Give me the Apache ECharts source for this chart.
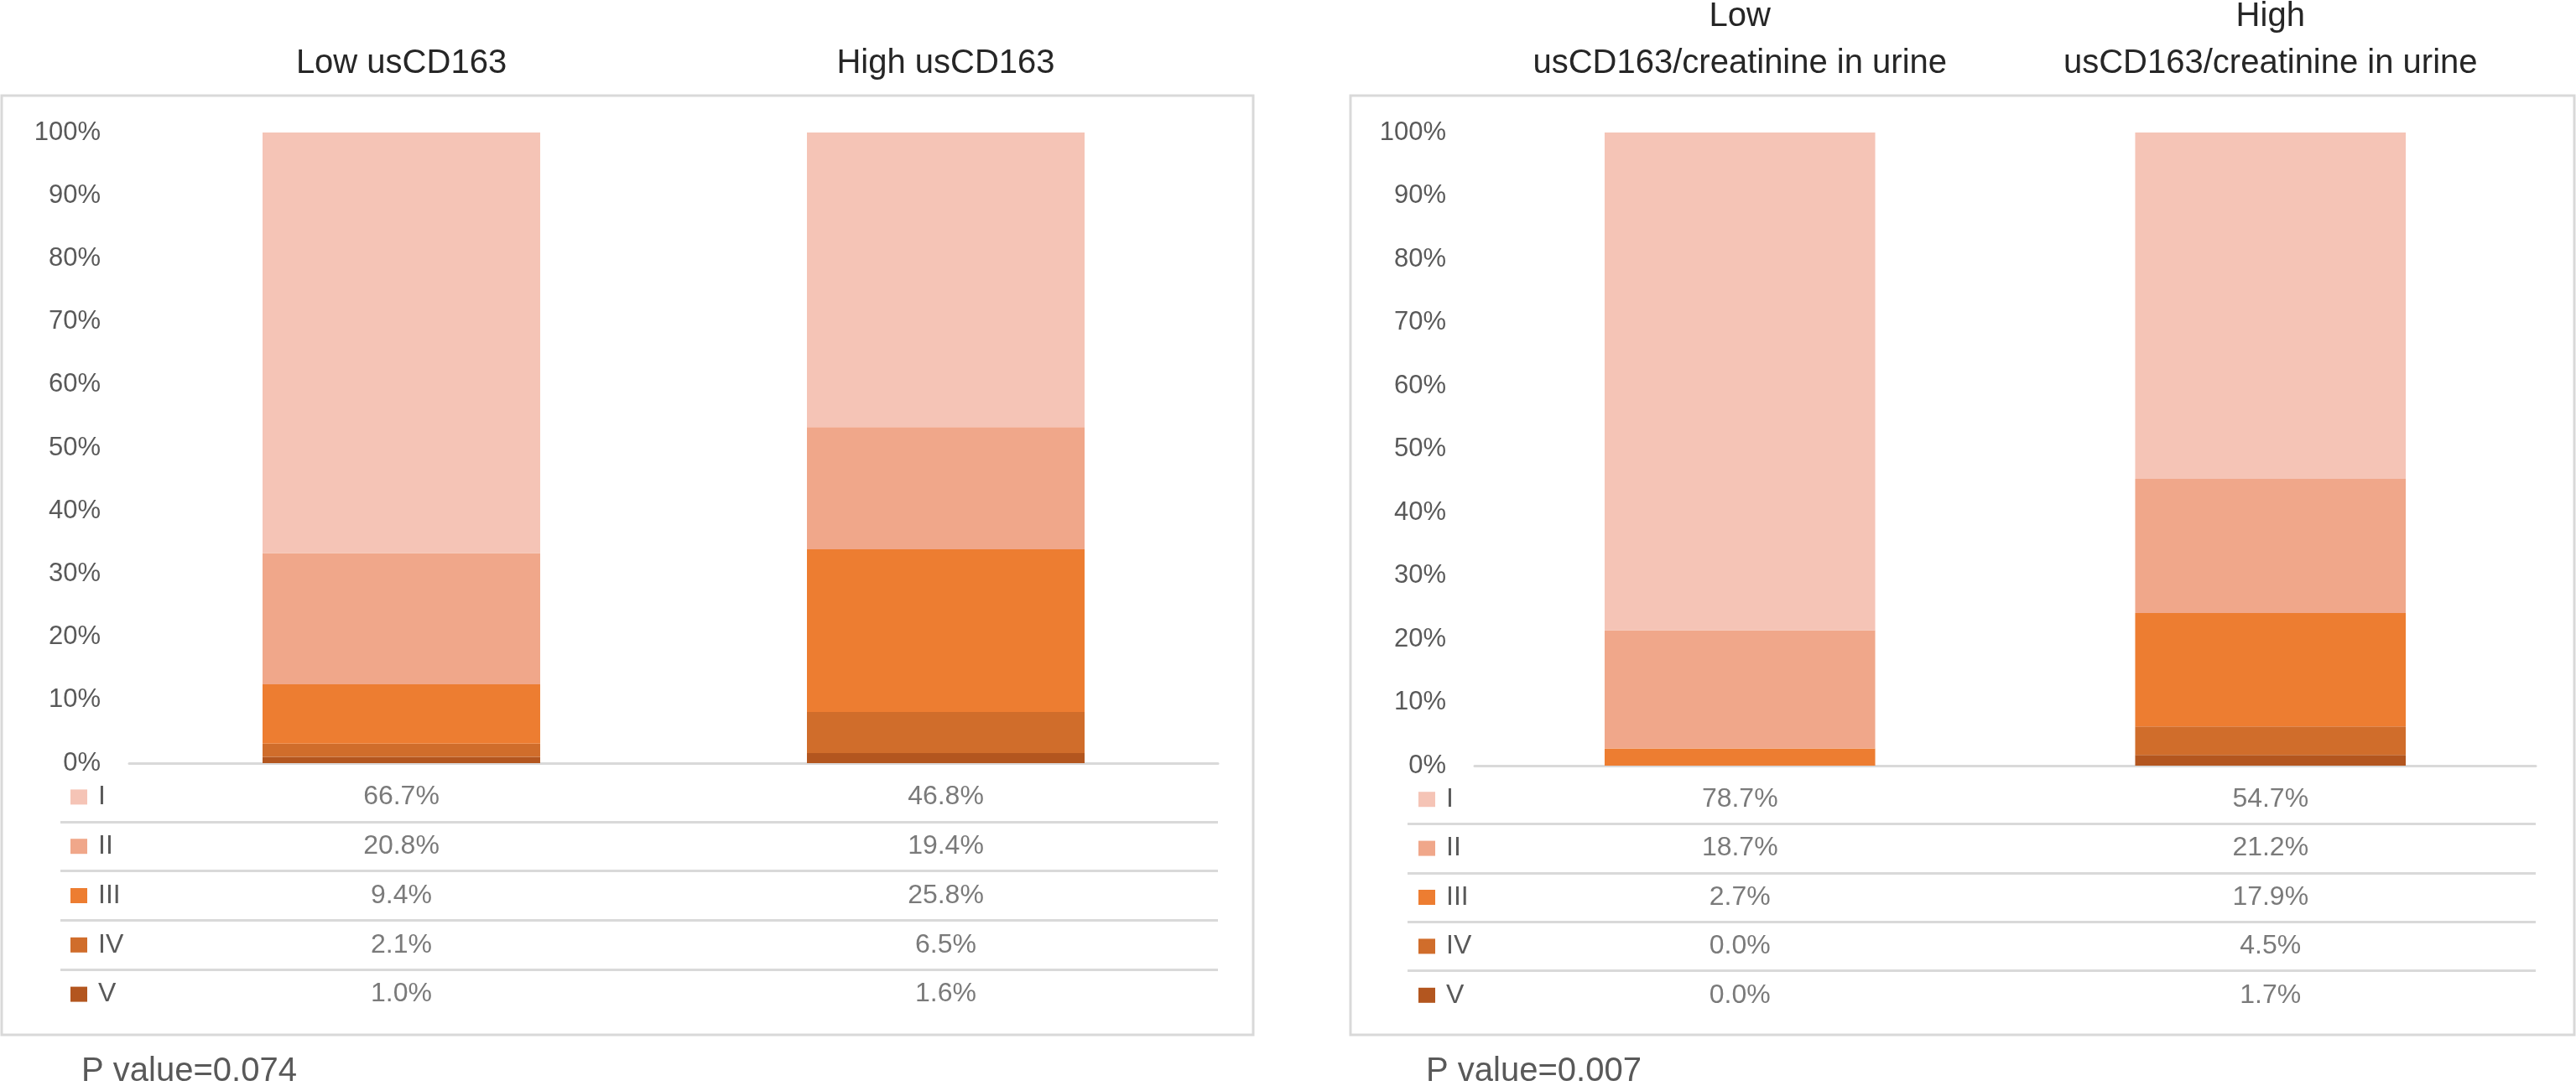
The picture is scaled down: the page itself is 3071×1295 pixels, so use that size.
<!DOCTYPE html>
<html>
<head>
<meta charset="utf-8">
<script src="https://cdn.jsdelivr.net/npm/echarts@6/dist/echarts.min.js"></script>
<style>
  html, body { margin: 0; padding: 0; background: #fff; }
  #chart { width: 3071px; height: 1295px; }
</style>
</head>
<body>
<div id="chart"></div>
<script>
// data
const grades = ["I", "II", "III", "IV", "V"];
const gradeColors = ["#F5C4B6", "#F0A78A", "#ED7D31", "#D06D2B", "#B3561F"];

const categoriesA = ["Low usCD163", "High usCD163"];
const lowA = [66.7, 20.8, 9.4, 2.1, 1.0];
const highA = [46.8, 19.4, 25.8, 6.5, 1.6];

const categoriesB = ["Low\nusCD163/creatinine in urine", "High\nusCD163/creatinine in urine"];
const lowB = [78.7, 18.7, 2.7, 0.0, 0.0];
const highB = [54.7, 21.2, 17.9, 4.5, 1.7];

const pValues = ["P value=0.074", "P value=0.007"];

const FONT = "'Liberation Sans', Arial, sans-serif";
const GRAY = "#595959";
const LINE = "#D9D9D9";

// layout of the two panels (pixels)
const panels = [
  { cats: categoriesA, low: lowA, high: highA, p: pValues[0],
    box: [2, 114, 1492, 1120], barLeft: 154, barRight: 1452, top: 158, zero: 910,
    tableLeft: 72, tableTop: 921, tableBottom: 1215, pX: 97, labelMargin: 12 },
  { cats: categoriesB, low: lowB, high: highB, p: pValues[1],
    box: [1610, 114, 1459, 1120], barLeft: 1758, barRight: 3023, top: 158, zero: 913,
    tableLeft: 1678, tableTop: 924, tableBottom: 1216, pX: 1700, labelMargin: 13 },
];

const chart = echarts.init(document.getElementById("chart"));

const grid = [], xAxis = [], yAxis = [], series = [], graphic = [];

const rich = { t: { fontSize: 32, color: GRAY, fontFamily: FONT, padding: [0, 0, 0, 13] } };
gradeColors.forEach((c, i) => {
  rich["s" + i] = { backgroundColor: c, width: 20, height: 18 };
});

panels.forEach((pn, k) => {
  const gBar = grid.length;
  grid.push({ left: pn.barLeft, top: pn.top, width: pn.barRight - pn.barLeft,
    height: pn.zero - pn.top, outerBoundsMode: "none" });
  const gTab = grid.length;
  grid.push({ left: pn.tableLeft, top: pn.tableTop, width: pn.barRight - pn.tableLeft,
    height: pn.tableBottom - pn.tableTop, outerBoundsMode: "none" });

  // bar grid axes
  const xBottom = xAxis.length;
  xAxis.push({
    type: "category", gridIndex: gBar, data: pn.cats,
    axisLine: { lineStyle: { color: LINE, width: 3 } },
    axisTick: { show: false }, axisLabel: { show: false },
  });
  xAxis.push({
    type: "category", gridIndex: gBar, data: pn.cats, position: "top",
    axisLine: { show: false }, axisTick: { show: false },
    axisLabel: { interval: 0, margin: 54, fontSize: 40, lineHeight: 56, color: "#262626", fontFamily: FONT },
  });
  const yBar = yAxis.length;
  yAxis.push({
    type: "value", gridIndex: gBar, min: 0, max: 100, interval: 10,
    splitLine: { show: false }, axisLine: { show: false }, axisTick: { show: false },
    axisLabel: { formatter: "{value}%", margin: 34, fontSize: 31, color: GRAY, fontFamily: FONT },
  });

  // table grid axes: x value axis aligned with bar category centres
  const band = (pn.barRight - pn.barLeft) / pn.cats.length;
  const c0 = pn.barLeft + band / 2;
  const xTab = xAxis.length;
  xAxis.push({
    type: "value", gridIndex: gTab,
    min: -(c0 - pn.tableLeft) / band,
    max: (pn.barRight - pn.tableLeft) / band - (c0 - pn.tableLeft) / band,
    show: false,
  });
  const yTab = yAxis.length;
  yAxis.push({
    type: "category", gridIndex: gTab, data: grades, inverse: true,
    axisLine: { show: false }, axisTick: { show: false },
    splitLine: { show: true, interval: 0, showMinLine: false, showMaxLine: false,
      lineStyle: { color: LINE, width: 3 } },
    axisLabel: {
      inside: true, margin: pn.labelMargin, interval: 0,
      formatter: (v, i) => "{s" + i + "|}{t|" + v + "}", rich: rich,
    },
  });

  // stacked bars, grade V at the bottom
  for (let g = grades.length - 1; g >= 0; g--) {
    series.push({
      type: "bar", name: grades[g], stack: "p" + k,
      xAxisIndex: xBottom, yAxisIndex: yBar, barWidth: "51%",
      itemStyle: { color: gradeColors[g] },
      data: [pn.low[g], pn.high[g]],
    });
  }

  // data table values
  const cells = [];
  grades.forEach((g, i) => {
    cells.push([0, g, pn.low[i]]);
    cells.push([1, g, pn.high[i]]);
  });
  series.push({
    type: "scatter", xAxisIndex: xTab, yAxisIndex: yTab,
    symbolSize: 1, itemStyle: { color: "transparent" },
    label: { show: true, position: "inside", fontSize: 32, color: GRAY, fontFamily: FONT,
      formatter: (p) => p.value[2].toFixed(1) + "%" },
    data: cells,
  });

  // frame and p value
  graphic.push({
    type: "rect", shape: { x: pn.box[0], y: pn.box[1], width: pn.box[2], height: pn.box[3] },
    style: { fill: "none", stroke: LINE, lineWidth: 3 }, silent: true, z: -1,
  });
  graphic.push({
    type: "text", left: pn.pX, top: 1258,
    style: { text: pn.p, fontSize: 40, fill: GRAY, fontFamily: FONT },
  });
});

chart.setOption({
  animation: false,
  backgroundColor: "#ffffff",
  textStyle: { fontFamily: FONT },
  grid, xAxis, yAxis, series, graphic,
});
</script>
</body>
</html>
